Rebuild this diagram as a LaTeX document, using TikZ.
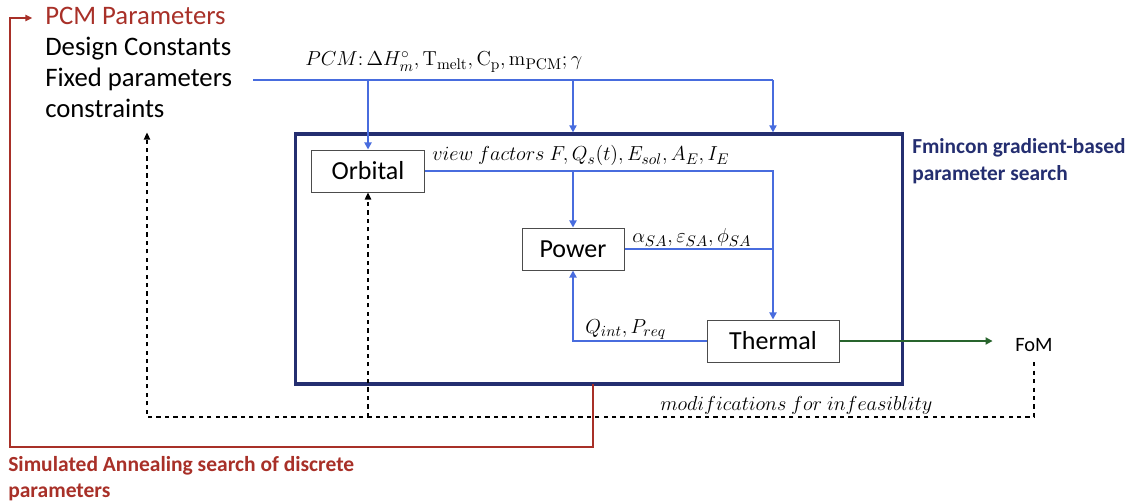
\documentclass[tikz,border=0pt]{standalone}
\usepackage[no-math]{fontspec}
\setmainfont{Carlito}
\usetikzlibrary{arrows.meta}
\definecolor{pcmred}{RGB}{168,48,40}
\definecolor{linkblue}{RGB}{72,108,222}
\definecolor{boxnavy}{RGB}{36,46,112}
\definecolor{fomgreen}{RGB}{40,100,45}
\tikzset{
  module/.style={draw=black!70, line width=0.7pt, fill=white, minimum height=1.05cm, inner sep=0pt, font=\fontsize{18.5}{22}\selectfont},
  flow/.style={draw=linkblue, line width=1.4pt},
  flowarrow/.style={flow, -{Triangle[length=5pt,width=5pt]}},
  feedback/.style={draw=black, dashed, line width=1pt},
  annealing/.style={draw=pcmred, line width=1.2pt},
  sidetext/.style={anchor=base west, inner sep=0pt, font=\fontsize{19}{22}\selectfont},
  mathlabel/.style={anchor=base west, inner sep=0pt, font=\fontsize{15.8}{18}\selectfont},
  boldlabel/.style={anchor=base west, inner sep=0pt, align=left, font=\bfseries}
}
\begin{document}
\begin{tikzpicture}[x=0.025cm,y=-0.025cm]
\useasboundingbox (0,0) rectangle (1130,504);

% inputs on the left
\node[sidetext, text=pcmred] (pcm) at (45,25) {PCM Parameters};
\node[sidetext] (design) at (45,56) {Design Constants};
\node[sidetext] (fixed) at (45,87) {Fixed parameters};
\node[sidetext] (constraints) at (45,118) {constraints};

% optimiser box and modules
\node[draw=boxnavy, line width=2.2pt, minimum width=15.15cm, minimum height=6.25cm] (search) at (599,259) {};
\node[boldlabel, text=boxnavy, font=\fontsize{15.2}{19.5}\selectfont\bfseries] (fmincon) at (912,181) {Fmincon gradient-based\\parameter search};
\node[module, minimum width=2.8cm] (orbital) at (368,171) {Orbital};
\node[module, minimum width=2.55cm] (power) at (573,249) {Power};
\node[module, minimum width=3.3cm] (thermal) at (773,341) {Thermal};
\node[anchor=base, inner sep=0pt, font=\fontsize{14.5}{17}\selectfont] (fom) at (1034,351) {FoM};

% parameter flows
\coordinate (pcmin) at (253,80);
\node[mathlabel] (pcmlabel) at (305,66) {$PCM{:}\,\Delta H_m^{\circ}, \mathrm{T}_{\mathrm{melt}}, \mathrm{C}_{\mathrm{p}}, \mathrm{m}_{\mathrm{PCM}}; \gamma$};
\draw[flow] (pcmin) -- (pcmin -| thermal.north);
\draw[flowarrow] (orbital.north |- pcmin) -- (orbital.north);
\draw[flowarrow] (power.north |- pcmin) -- (power.north |- search.north);
\draw[flowarrow] (thermal.north |- pcmin) -- (thermal.north |- search.north);

\node[mathlabel] (viewlabel) at (432,161) {$view\ factors\ F, Q_s(t), E_{sol}, A_E, I_E$};
\draw[flowarrow] (orbital.east) -| (thermal.north);
\draw[flowarrow] (power.north |- orbital.east) -- (power.north);

\node[mathlabel] (solarlabel) at (632,243) {$\alpha_{SA}, \varepsilon_{SA}, \phi_{SA}$};
\draw[flow] (power.east) -- (power.east -| thermal.north);

\node[mathlabel] (intlabel) at (585,333) {$Q_{int}, P_{req}$};
\draw[flowarrow] (thermal.west) -| (power.south);

\draw[draw=fomgreen, line width=1.4pt, -{Triangle[length=5pt,width=5pt]}] (thermal.east) -- ([xshift=-16pt]thermal.east -| fom.west);

% infeasibility feedback
\coordinate (dashcorner) at (147,417);
\draw[feedback, -{Triangle[length=5pt,width=4.5pt]}] ([yshift=-8pt]fom.base) |- (dashcorner) -- ([yshift=-10pt]dashcorner |- constraints.south);
\draw[feedback, -{Triangle[length=5pt,width=4.5pt]}] (orbital.south |- dashcorner) -- (orbital.south);
\node[mathlabel, font=\fontsize{15.3}{18}\selectfont] (modlabel) at (660,410) {$modifications\ for\ infeasiblity$};

% outer annealing loop
\coordinate (redfoot) at (593,384);
\coordinate (redcorner) at (10,447);
\draw[annealing, -{Triangle[length=5pt,width=4.5pt]}] (redfoot) |- (redcorner) |- ([xshift=-9pt]pcm.west |- 0,18);
\node[boldlabel, text=pcmred, font=\fontsize{15.3}{18}\selectfont\bfseries] (sa) at (8,497) {Simulated Annealing search of discrete\\parameters};
\end{tikzpicture}
\end{document}
